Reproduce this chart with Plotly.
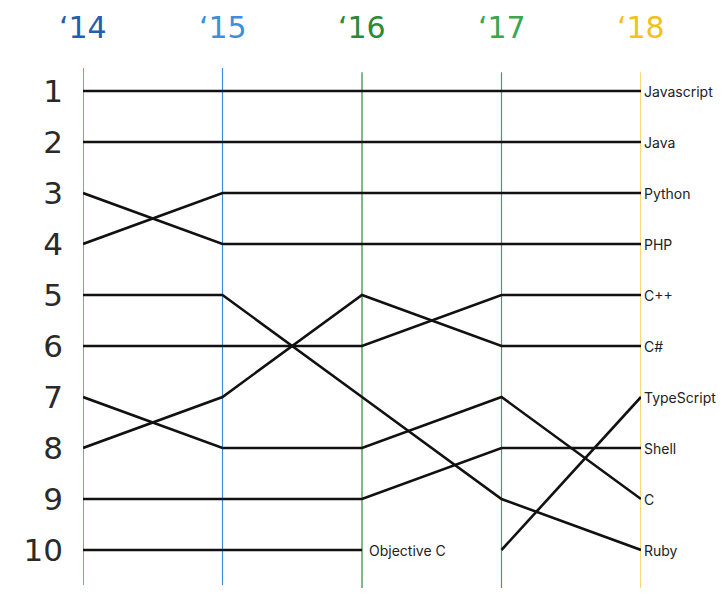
import plotly.graph_objects as go

years = ["‘14", "‘15", "‘16", "‘17", "‘18"]
year_colors = ["#1f5fb0", "#3d8fdc", "#2a8a3c", "#3aa64f", "#f2c21b"]
ranks = list(range(1, 11))

# rank of each language per year (None = not in top 10)
javascript = [1, 1, 1, 1, 1]
java = [2, 2, 2, 2, 2]
python = [4, 3, 3, 3, 3]
php = [3, 4, 4, 4, 4]
cpp = [6, 6, 6, 5, 5]
csharp = [8, 7, 5, 6, 6]
typescript = [None, None, None, 10, 7]
shell = [9, 9, 9, 8, 8]
c_lang = [7, 8, 8, 7, 9]
ruby = [5, 5, 7, 9, 10]
objective_c = [10, 10, 10, None, None]

series = [
    ("Javascript", javascript),
    ("Java", java),
    ("Python", python),
    ("PHP", php),
    ("C++", cpp),
    ("C#", csharp),
    ("TypeScript", typescript),
    ("Shell", shell),
    ("C", c_lang),
    ("Ruby", ruby),
    ("Objective C", objective_c),
]

xs = list(range(len(years)))
fig = go.Figure()

# vertical year lines
for i, col in enumerate(year_colors):
    y0 = 0.006 if i < 2 else 0.0
    y1 = 1.0 if i < 2 else 0.992
    fig.add_shape(type="line", xref="x", yref="paper", x0=i, x1=i, y0=y0, y1=y1,
                  line=dict(color=col, width=1.2), layer="below")
    fig.add_annotation(x=i, y=1.077, xref="x", yref="paper", text=years[i],
                       showarrow=False, xanchor="center", yanchor="middle",
                       font=dict(family="DejaVu Sans, sans-serif", size=30, color=col))

for name, vals in series:
    fig.add_trace(go.Scatter(x=xs, y=vals, mode="lines", name=name,
                             line=dict(color="#111111", width=2.6),
                             connectgaps=False, hoverinfo="skip"))
    # label at last valid point
    last = max(i for i, v in enumerate(vals) if v is not None)
    fig.add_annotation(x=last, y=vals[last], xref="x", yref="y", text=name,
                       showarrow=False, xanchor="left", yanchor="middle",
                       xshift=1 if last == len(years) - 1 else 5,
                       font=dict(family="Inter, sans-serif", size=14, color="#222222"))

fig.update_layout(
    width=728, height=610,
    margin=dict(l=75, r=95, t=60, b=30),
    paper_bgcolor="white", plot_bgcolor="white",
    showlegend=False,
    xaxis=dict(range=[0, 4], showgrid=False, zeroline=False, showticklabels=False,
               showline=False, fixedrange=True),
    yaxis=dict(range=[10.745, 0.549], showgrid=False, zeroline=False,
               tickvals=ranks, ticktext=[str(r) for r in ranks],
               tickfont=dict(family="DejaVu Sans, sans-serif", size=31, color="#2a2a2a"),
               ticks="", ticklabelstandoff=19, showline=False, fixedrange=True),
)

fig.write_html("out.html")
